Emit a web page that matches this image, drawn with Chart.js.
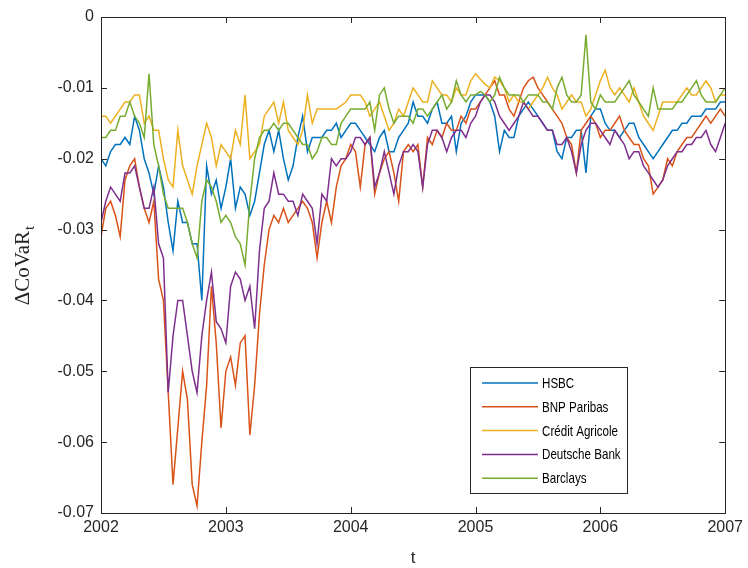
<!DOCTYPE html>
<html><head><meta charset="utf-8">
<script src="https://cdn.jsdelivr.net/npm/chart.js@4/dist/chart.umd.min.js"></script>
<style>html,body{margin:0;padding:0;background:#fff}#wrap{width:748px;height:568px}</style>
</head><body><div id="wrap"><canvas id="c" width="748" height="568"></canvas></div>
<script>
// ---- data ----
const seriesNames = ['HSBC', 'BNP Paribas', 'Crédit Agricole', 'Deutsche Bank', 'Barclays'];
const seriesColors = ['#0072BD', '#D95319', '#EDB120', '#7E2F8E', '#77AC30'];
const startYear = 2002;
const pointsPerYear = 26;
const xTicks = [2002, 2003, 2004, 2005, 2006, 2007];
const yTicks = [0, -0.01, -0.02, -0.03, -0.04, -0.05, -0.06, -0.07];
const yTickLabels = ['0', '-0.01', '-0.02', '-0.03', '-0.04', '-0.05', '-0.06', '-0.07'];
const xTitle = 't';
const yTitle = 'ΔCoVaR';
const yTitleSub = 't';

const hsbc = [
-0.020,-0.021,-0.019,-0.018,-0.018,-0.017,-0.018,-0.014,-0.016,-0.020,
-0.022,-0.025,-0.021,-0.024,-0.029,-0.033,-0.026,-0.029,-0.029,-0.032,
-0.032,-0.040,-0.021,-0.025,-0.023,-0.027,-0.024,-0.020,-0.027,-0.024,
-0.025,-0.028,-0.026,-0.022,-0.018,-0.016,-0.019,-0.016,-0.020,-0.023,
-0.021,-0.017,-0.014,-0.019,-0.017,-0.017,-0.017,-0.016,
-0.016,-0.015,-0.017,-0.016,-0.015,-0.015,-0.016,-0.017,-0.018,-0.019,
-0.017,-0.016,-0.019,-0.019,-0.017,-0.016,-0.015,-0.012,-0.014,-0.014,
-0.015,-0.013,-0.012,-0.015,-0.015,-0.014,-0.019,-0.015,-0.014,-0.012,
-0.011,-0.011,-0.011,-0.012,-0.014,-0.019,-0.016,-0.017,-0.017,-0.014,
-0.013,-0.012,-0.013,-0.014,-0.015,-0.016,-0.016,-0.019,-0.020,-0.017,
-0.017,-0.016,-0.016,-0.022,-0.014,-0.013,-0.013,-0.015,-0.016,-0.016,
-0.017,-0.016,-0.015,-0.015,-0.017,-0.018,-0.019,-0.020,-0.019,-0.018,
-0.017,-0.016,-0.016,-0.015,-0.015,-0.014,-0.014,-0.014,-0.013,-0.013,
-0.013,-0.012,-0.012];

const bnp = [
-0.031,-0.027,-0.026,-0.028,-0.031,-0.023,-0.021,-0.020,-0.024,-0.027,
-0.029,-0.026,-0.037,-0.040,-0.053,-0.066,-0.058,-0.050,-0.054,-0.066,
-0.069,-0.060,-0.052,-0.038,-0.046,-0.058,-0.050,-0.048,-0.052,-0.046,
-0.045,-0.059,-0.052,-0.042,-0.035,-0.030,-0.028,-0.029,-0.027,-0.029,
-0.028,-0.027,-0.026,-0.027,-0.029,-0.034,-0.029,-0.026,
-0.029,-0.024,-0.021,-0.020,-0.018,-0.019,-0.024,-0.018,-0.017,-0.025,
-0.022,-0.020,-0.019,-0.022,-0.026,-0.019,-0.018,-0.019,-0.018,-0.024,
-0.017,-0.018,-0.016,-0.017,-0.015,-0.016,-0.016,-0.014,-0.015,-0.013,
-0.013,-0.012,-0.011,-0.010,-0.009,-0.011,-0.011,-0.013,-0.014,-0.012,
-0.010,-0.009,-0.0085,-0.010,-0.011,-0.012,-0.013,-0.014,-0.015,-0.017,
-0.018,-0.022,-0.016,-0.015,-0.014,-0.015,-0.017,-0.016,-0.016,-0.015,
-0.014,-0.016,-0.017,-0.018,-0.018,-0.020,-0.021,-0.025,-0.024,-0.023,
-0.020,-0.021,-0.019,-0.018,-0.017,-0.017,-0.016,-0.015,-0.014,-0.015,
-0.014,-0.013,-0.014];

const credit = [
-0.014,-0.014,-0.015,-0.014,-0.013,-0.012,-0.012,-0.011,-0.011,-0.015,
-0.014,-0.016,-0.016,-0.020,-0.023,-0.024,-0.016,-0.021,-0.023,-0.025,
-0.021,-0.018,-0.015,-0.017,-0.021,-0.018,-0.019,-0.020,-0.016,-0.018,
-0.011,-0.020,-0.019,-0.018,-0.014,-0.013,-0.012,-0.015,-0.012,-0.016,
-0.017,-0.018,-0.016,-0.011,-0.015,-0.013,-0.013,-0.013,
-0.013,-0.013,-0.0125,-0.012,-0.011,-0.011,-0.011,-0.012,-0.014,-0.013,
-0.012,-0.014,-0.016,-0.015,-0.013,-0.014,-0.012,-0.010,-0.011,-0.012,
-0.012,-0.009,-0.010,-0.011,-0.011,-0.012,-0.010,-0.011,-0.011,-0.009,
-0.008,-0.0088,-0.0095,-0.010,-0.0085,-0.009,-0.010,-0.012,-0.011,-0.012,
-0.012,-0.013,-0.012,-0.011,-0.010,-0.0085,-0.010,-0.011,-0.013,-0.012,
-0.011,-0.012,-0.012,-0.014,-0.013,-0.011,-0.009,-0.0075,-0.010,-0.011,
-0.010,-0.011,-0.012,-0.010,-0.012,-0.014,-0.015,-0.016,-0.014,-0.012,
-0.012,-0.012,-0.012,-0.011,-0.010,-0.011,-0.011,-0.010,-0.009,-0.010,
-0.012,-0.011,-0.011];

const deutsche = [
-0.029,-0.026,-0.024,-0.025,-0.026,-0.022,-0.022,-0.021,-0.024,-0.027,
-0.027,-0.024,-0.032,-0.034,-0.053,-0.045,-0.040,-0.040,-0.045,-0.050,
-0.053,-0.045,-0.040,-0.036,-0.043,-0.044,-0.046,-0.038,-0.036,-0.037,
-0.040,-0.038,-0.044,-0.033,-0.027,-0.026,-0.022,-0.025,-0.025,-0.026,
-0.026,-0.028,-0.025,-0.026,-0.027,-0.032,-0.025,-0.026,
-0.020,-0.021,-0.020,-0.020,-0.019,-0.017,-0.017,-0.018,-0.017,-0.024,
-0.022,-0.019,-0.022,-0.025,-0.021,-0.019,-0.019,-0.018,-0.019,-0.024,
-0.018,-0.016,-0.016,-0.017,-0.019,-0.017,-0.016,-0.016,-0.017,-0.015,
-0.014,-0.012,-0.011,-0.011,-0.012,-0.014,-0.015,-0.016,-0.015,-0.014,
-0.012,-0.013,-0.014,-0.014,-0.015,-0.016,-0.016,-0.018,-0.018,-0.017,
-0.019,-0.022,-0.018,-0.016,-0.015,-0.015,-0.016,-0.017,-0.018,-0.016,
-0.017,-0.018,-0.020,-0.019,-0.019,-0.021,-0.022,-0.023,-0.024,-0.023,
-0.021,-0.020,-0.019,-0.019,-0.018,-0.018,-0.017,-0.017,-0.016,-0.018,
-0.019,-0.017,-0.015];

const barclays = [
-0.017,-0.017,-0.016,-0.016,-0.014,-0.014,-0.012,-0.014,-0.015,-0.017,
-0.008,-0.018,-0.021,-0.025,-0.027,-0.027,-0.027,-0.027,-0.029,-0.032,
-0.034,-0.026,-0.023,-0.024,-0.026,-0.029,-0.028,-0.029,-0.031,-0.032,
-0.035,-0.026,-0.020,-0.017,-0.016,-0.016,-0.015,-0.016,-0.015,-0.015,
-0.016,-0.017,-0.018,-0.018,-0.020,-0.019,-0.017,-0.017,
-0.018,-0.018,-0.015,-0.014,-0.013,-0.013,-0.013,-0.013,-0.012,-0.016,
-0.011,-0.010,-0.013,-0.015,-0.014,-0.014,-0.014,-0.015,-0.013,-0.013,
-0.014,-0.013,-0.012,-0.011,-0.013,-0.012,-0.009,-0.011,-0.012,-0.011,
-0.011,-0.0105,-0.011,-0.012,-0.011,-0.0085,-0.010,-0.011,-0.011,-0.011,
-0.012,-0.011,-0.011,-0.011,-0.012,-0.012,-0.013,-0.010,-0.0085,-0.011,
-0.012,-0.012,-0.011,-0.0025,-0.012,-0.013,-0.011,-0.012,-0.012,-0.012,
-0.011,-0.010,-0.009,-0.011,-0.012,-0.013,-0.014,-0.010,-0.013,-0.013,
-0.013,-0.013,-0.012,-0.012,-0.011,-0.010,-0.009,-0.011,-0.012,-0.012,
-0.012,-0.011,-0.010];

const allSeries = [hsbc, bnp, credit, deutsche, barclays];

// ---- chart ----
const AXIS_COLOR = '#262626';
const datasets = allSeries.map((vals, k) => ({
  label: seriesNames[k],
  data: vals.map((v, i) => ({ x: startYear + i / pointsPerYear, y: v })),
  borderColor: seriesColors[k],
  backgroundColor: seriesColors[k],
  borderWidth: 1.5,
  pointRadius: 0,
  tension: 0,
  fill: false,
  order: allSeries.length - k
}));

const decorPlugin = {
  id: 'decor',
  afterDraw(chart) {
    const ctx = chart.ctx;
    const a = chart.chartArea;
    const xs = chart.scales.x, ys = chart.scales.y;
    ctx.save();
    // box
    ctx.strokeStyle = AXIS_COLOR;
    ctx.lineWidth = 1;
    ctx.strokeRect(Math.round(a.left) + 0.5, Math.round(a.top) + 0.5,
                   Math.round(a.right - a.left), Math.round(a.bottom - a.top));
    // inward ticks
    ctx.beginPath();
    const tl = 6;
    xTicks.forEach(v => {
      const px = Math.round(xs.getPixelForValue(v)) + 0.5;
      ctx.moveTo(px, a.bottom); ctx.lineTo(px, a.bottom - tl);
      ctx.moveTo(px, a.top); ctx.lineTo(px, a.top + tl);
    });
    yTicks.forEach(v => {
      const py = Math.round(ys.getPixelForValue(v)) + 0.5;
      ctx.moveTo(a.left, py); ctx.lineTo(a.left + tl, py);
      ctx.moveTo(a.right, py); ctx.lineTo(a.right - tl, py);
    });
    ctx.stroke();

    // legend
    const lx = 470.5, ly = 367.5, lw = 157, lh = 126;
    ctx.fillStyle = '#ffffff';
    ctx.fillRect(lx, ly, lw, lh);
    ctx.strokeStyle = AXIS_COLOR;
    ctx.strokeRect(lx, ly, lw, lh);
    seriesNames.forEach((name, k) => {
      const y = 383 + k * 23.8;
      ctx.strokeStyle = seriesColors[k];
      ctx.lineWidth = 1.5;
      ctx.beginPath();
      ctx.moveTo(482, y); ctx.lineTo(538, y);
      ctx.stroke();
      ctx.save();
      ctx.translate(542, y);
      ctx.scale(0.8, 1);
      ctx.fillStyle = '#000000';
      ctx.font = '14.5px "Liberation Sans", Arial, sans-serif';
      ctx.textAlign = 'left';
      ctx.textBaseline = 'middle';
      ctx.fillText(name, 0, 1);
      ctx.restore();
    });

    // x title
    ctx.fillStyle = AXIS_COLOR;
    ctx.font = '17px "Liberation Sans", Arial, sans-serif';
    ctx.textAlign = 'center';
    ctx.textBaseline = 'middle';
    ctx.fillText(xTitle, (a.left + a.right) / 2, 558);

    // y title with subscript
    ctx.save();
    ctx.translate(29, 266);
    ctx.rotate(-Math.PI / 2);
    const mainFont = '21px "Liberation Serif", "Times New Roman", serif';
    const subFont = '15px "Liberation Serif", "Times New Roman", serif';
    ctx.font = mainFont;
    const w1 = ctx.measureText(yTitle).width;
    ctx.font = subFont;
    const w2 = ctx.measureText(yTitleSub).width;
    const x0 = -(w1 + w2) / 2;
    ctx.textAlign = 'left';
    ctx.textBaseline = 'alphabetic';
    ctx.font = mainFont;
    ctx.fillText(yTitle, x0, 0);
    ctx.font = subFont;
    ctx.fillText(yTitleSub, x0 + w1 + 1, 5);
    ctx.restore();

    ctx.restore();
  }
};

new Chart(document.getElementById('c'), {
  type: 'line',
  data: { datasets },
  options: {
    responsive: false,
    animation: false,
    devicePixelRatio: 1,
    layout: { padding: { left: 0, right: 21, top: 17, bottom: 0 } },
    plugins: { legend: { display: false }, tooltip: { enabled: false } },
    scales: {
      x: {
        type: 'linear',
        min: xTicks[0], max: xTicks[xTicks.length - 1],
        afterBuildTicks: s => { s.ticks = xTicks.map(v => ({ value: v })); },
        afterFit: s => { s.height = 55; },
        ticks: {
          callback: v => String(v),
          color: AXIS_COLOR,
          font: { family: '"Liberation Sans", Arial, sans-serif', size: 16 },
          padding: 5,
          maxRotation: 0
        },
        grid: { display: false, drawTicks: false },
        border: { display: false }
      },
      y: {
        type: 'linear',
        min: yTicks[yTicks.length - 1], max: yTicks[0],
        afterBuildTicks: s => { s.ticks = yTicks.slice().reverse().map(v => ({ value: v })); },
        afterFit: s => { s.width = 101; },
        ticks: {
          callback: v => {
            const idx = yTicks.findIndex(t => Math.abs(t - v) < 1e-9);
            return idx >= 0 ? yTickLabels[idx] : '';
          },
          color: AXIS_COLOR,
          font: { family: '"Liberation Sans", Arial, sans-serif', size: 16 },
          padding: 7
        },
        grid: { display: false, drawTicks: false },
        border: { display: false }
      }
    }
  },
  plugins: [decorPlugin]
});
</script>
</body></html>
